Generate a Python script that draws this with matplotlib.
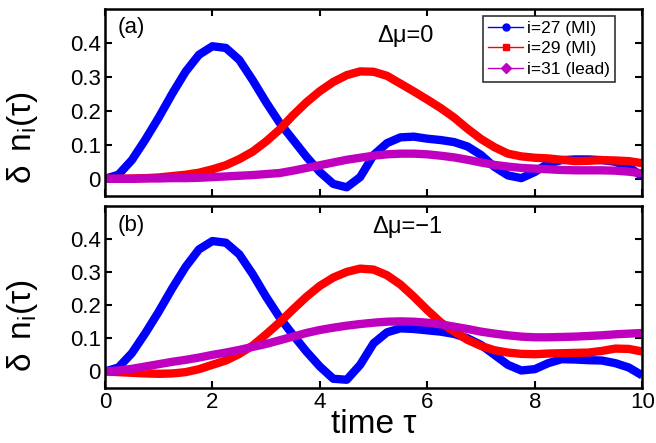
import numpy as np
import matplotlib
matplotlib.use('Agg')
import matplotlib.pyplot as plt
from matplotlib.lines import Line2D
from matplotlib.ticker import FormatStrFormatter

plt.rcParams['font.family'] = ['Liberation Sans', 'DejaVu Sans']
plt.rcParams['mathtext.fontset'] = 'custom'
plt.rcParams['mathtext.rm'] = 'Liberation Sans'
plt.rcParams['mathtext.it'] = 'Liberation Sans'

# time grid (tau), read every 0.25
tau = np.arange(0, 10.01, 0.25)

# panel (a): delta mu = 0
a_i27 = [0.0, 0.012, 0.055, 0.115, 0.18, 0.25, 0.315, 0.365, 0.39, 0.385,
         0.35, 0.29, 0.225, 0.165, 0.115, 0.065, 0.02, -0.015, -0.025, 0.005,
         0.07, 0.105, 0.122, 0.124, 0.118, 0.114, 0.108, 0.095, 0.07, 0.035,
         0.01, 0.002, 0.02, 0.045, 0.055, 0.057, 0.057, 0.055, 0.05, 0.035, 0.007]
a_i29 = [0.0, 0.0, 0.001, 0.002, 0.004, 0.008, 0.012, 0.018, 0.028, 0.04,
         0.058, 0.08, 0.11, 0.145, 0.187, 0.225, 0.258, 0.285, 0.305, 0.316,
         0.315, 0.303, 0.28, 0.257, 0.233, 0.208, 0.18, 0.147, 0.117, 0.093,
         0.074, 0.066, 0.062, 0.06, 0.056, 0.052, 0.053, 0.055, 0.054, 0.052, 0.046]
a_i31 = [0.0, 0.0, 0.0, 0.001, 0.001, 0.002, 0.002, 0.003, 0.005, 0.007,
         0.009, 0.011, 0.014, 0.017, 0.024, 0.032, 0.04, 0.048, 0.056, 0.062,
         0.068, 0.072, 0.074, 0.074, 0.072, 0.068, 0.063, 0.056, 0.048, 0.041,
         0.036, 0.032, 0.03, 0.028, 0.026, 0.025, 0.025, 0.025, 0.024, 0.021, 0.016]

# panel (b): delta mu = -1
b_i27 = [0.0, 0.012, 0.055, 0.115, 0.18, 0.25, 0.315, 0.368, 0.393, 0.388,
         0.353, 0.293, 0.225, 0.163, 0.11, 0.06, 0.015, -0.022, -0.025, 0.02,
         0.085, 0.118, 0.13, 0.128, 0.124, 0.12, 0.113, 0.1, 0.08, 0.05,
         0.02, 0.003, 0.007, 0.025, 0.037, 0.036, 0.034, 0.033, 0.025, 0.012, -0.012]
b_i29 = [0.0, -0.002, -0.004, -0.006, -0.007, -0.006, -0.002, 0.007, 0.02, 0.033,
         0.053, 0.078, 0.112, 0.148, 0.187, 0.225, 0.258, 0.283, 0.3, 0.31,
         0.307, 0.29, 0.262, 0.225, 0.185, 0.148, 0.12, 0.095, 0.077, 0.064,
         0.057, 0.053, 0.052, 0.054, 0.055, 0.056, 0.057, 0.062, 0.069, 0.068, 0.06]
b_i31 = [0.0, 0.003, 0.008, 0.015, 0.022, 0.029, 0.035, 0.042, 0.05, 0.057,
         0.065, 0.074, 0.083, 0.094, 0.105, 0.116, 0.125, 0.132, 0.138, 0.143,
         0.147, 0.15, 0.151, 0.15, 0.147, 0.142, 0.135, 0.128, 0.12, 0.114,
         0.109, 0.105, 0.103, 0.103, 0.104, 0.105, 0.107, 0.109, 0.112, 0.114, 0.116]

labels = ['i=27 (MI)', 'i=29 (MI)', 'i=31 (lead)']
colors = ['#0000ff', '#ff0000', '#bf00bf']
markers = ['o', 's', 'D']
panels = [('(a)', 0.9, '\u0394\u03bc=0', 0.507, 0.856, 0.31, [a_i27, a_i29, a_i31]),
          ('(b)', 0.89, '\u0394\u03bc=\u22121', 0.497, 0.885, 0.34, [b_i27, b_i29, b_i31])]

fig = plt.figure(figsize=(6.56, 4.43), dpi=100)
ax1 = fig.add_axes([0.160, 0.558, 0.819, 0.422])
ax2 = fig.add_axes([0.160, 0.124, 0.819, 0.412])

for ax, (tag, tag_y, mu, mu_x, mu_y, lab_y, series) in zip([ax1, ax2], panels):
    for y, c in zip(series, colors):
        ax.plot(tau, y, color=c, lw=6, solid_capstyle='butt',
                solid_joinstyle='round')
    ax.set_xlim(0, 10)
    ax.set_ylim(-0.05, 0.5)
    ax.set_xticks([0, 2, 4, 6, 8, 10])
    ax.set_yticks([0, 0.1, 0.2, 0.3, 0.4])
    ax.yaxis.set_major_formatter(FormatStrFormatter('%g'))
    ax.tick_params(direction='in', top=True, right=True, labelsize=16,
                   width=1.5, length=5, pad=3)
    for s in ax.spines.values():
        s.set_linewidth(1.8)
    ax.text(0.024, tag_y, tag, transform=ax.transAxes, fontsize=16,
            va='center', ha='left')
    ax.text(mu_x, mu_y, mu, transform=ax.transAxes, fontsize=17,
            va='center', ha='left')
    ax.set_ylabel(r'$\delta\ \,\mathrm{n_i(\tau)}$', fontsize=24)
    ax.yaxis.set_label_coords(-0.12, lab_y)

ax1.tick_params(labelbottom=False)
ax2.set_xlabel('time \u03c4', fontsize=24, labelpad=-3)

handles = [Line2D([0], [0], color=c, lw=1, marker=m, ms=5, mfc=c, mec=c)
           for c, m in zip(colors, markers)]
leg = ax1.legend(handles, labels, loc='upper right',
                 bbox_to_anchor=(0.95, 0.963), fontsize=12.5, frameon=True,
                 fancybox=False, edgecolor='black', handlelength=2.0,
                 handletextpad=0.25, borderpad=0.3, labelspacing=0.3,
                 borderaxespad=0)
leg.get_frame().set_linewidth(1.2)

fig.savefig('out.png', dpi=100)
